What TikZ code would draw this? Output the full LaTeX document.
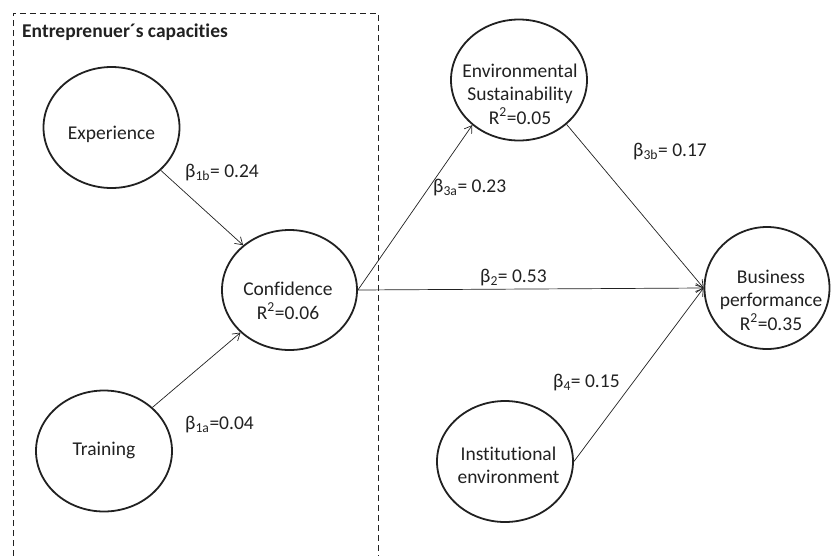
\documentclass[tikz,border=0pt]{standalone}
\usepackage{fontspec}
\setmainfont{Carlito}[Ligatures=NoCommon]
\usetikzlibrary{shapes.geometric,arrows.meta}
\definecolor{ink}{rgb}{0.13,0.13,0.13}

\begin{document}
\begin{tikzpicture}[x=1pt,y=-1pt]
        \tikzstyle{every node}=[font=\fontsize{19.5}{23.5}\selectfont, text=ink]
        \tikzstyle{latent}=[draw=ink, ellipse, line width=1.8pt, minimum width=136pt, minimum height=121pt, inner sep=0pt]
        \tikzstyle{ltext}=[align=center, inner sep=0pt]
        \tikzstyle{coef}=[anchor=base west, inner sep=0pt]
        \tikzstyle{arr}=[draw=ink, line width=0.7pt, -{Straight Barb[length=7pt,width=9pt]}]
        \useasboundingbox (0,0) rectangle (831,555);

        % entrepreneur box
        \draw[ink, line width=0.8pt, dash pattern=on 6pt off 4pt] (13,556) -- (13,13) -- (378,13) -- (378,556);
        \node[coef, font=\fontsize{19.5}{23.5}\selectfont\bfseries] (boxtitle) at (22,37) {Entreprenuer´s capacities};

        % constructs
        \node[latent] (exp) at (111.5,127.5) {};
        \node[latent] (trn) at (104,451) {};
        \node[latent, minimum width=135pt, minimum height=120pt] (conf) at (289.5,290) {};
        \node[latent] (env) at (519,80) {};
        \node[latent] (inst) at (505,461.5) {};
        \node[latent, minimum width=125pt, minimum height=122pt] (bus) at (767,288) {};

        \node[ltext, anchor=base] (exptxt) at (111.5,139) {Experience};
        \node[ltext, anchor=base] (trntxt) at (104,455) {Training};
        \node[ltext] (conftxt) at (288,301) {Confidence\\R\textsuperscript{2}=0.06};
        \node[ltext] (envtxt) at (520,94) {Environmental\\Sustainability\\R\textsuperscript{2}=0.05};
        \node[ltext] (insttxt) at (508.5,465.5) {Institutional\\environment};
        \node[ltext] (bustxt) at (771,300) {Business\\performance\\R\textsuperscript{2}=0.35};

        % paths
        \draw[arr] (exp.-41) -- (conf.136);
        \draw[arr] (trn.42) -- (conf.-139);
        \draw[arr] (conf.east) -- (env.224);
        \draw[arr] (conf.east) -- (bus.west);
        \draw[arr] (env.-43) -- (bus.west);
        \draw[arr] (inst.east) -- (bus.west);

        \node[coef] (b1b) at (185,177) {β\textsubscript{1b}= 0.24};
        \node[coef] (b1a) at (185,429) {β\textsubscript{1a}=0.04};
        \node[coef] (b3a) at (433,192) {β\textsubscript{3a}= 0.23};
        \node[coef] (b2) at (480,282) {β\textsubscript{2}= 0.53};
        \node[coef] (b3b) at (633,156) {β\textsubscript{3b}= 0.17};
        \node[coef] (b4) at (553,387) {β\textsubscript{4}= 0.15};
  \end{tikzpicture}
\end{document}
